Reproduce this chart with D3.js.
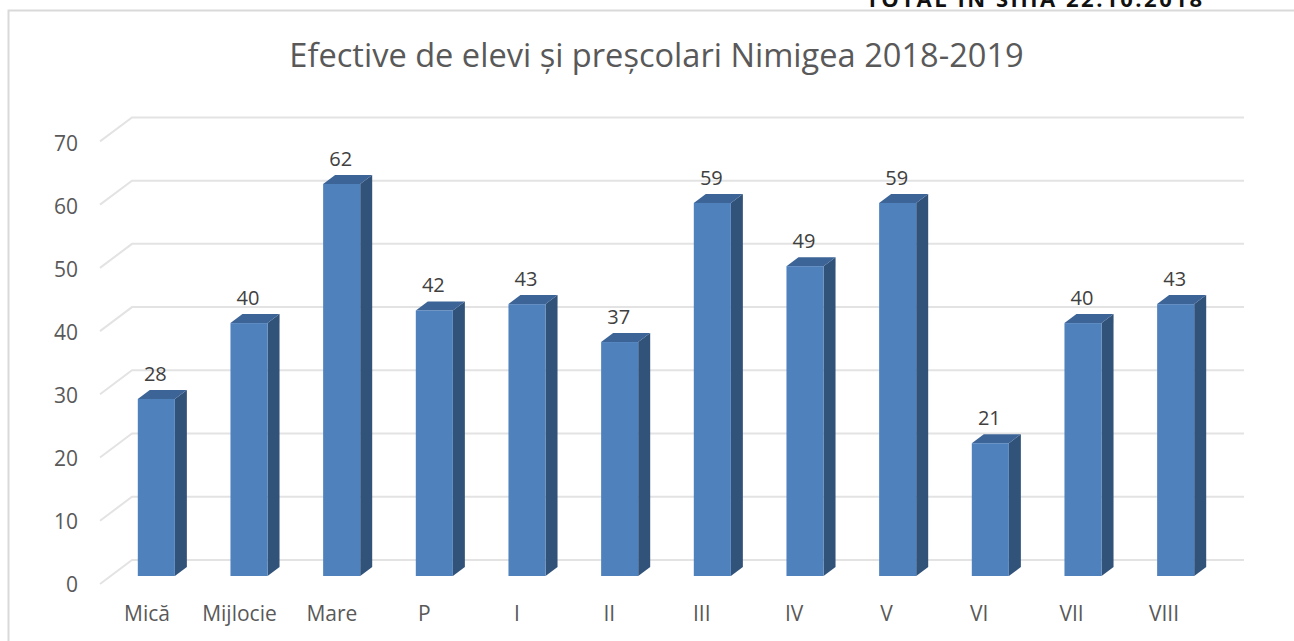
<!DOCTYPE html>
<html><head><meta charset="utf-8">
<script src="https://cdn.jsdelivr.net/npm/d3@7/dist/d3.min.js"></script>
<style>html,body{margin:0;padding:0;background:#fff}svg{display:block}text{font-family:"Open Sans","Noto Sans",sans-serif}</style>
</head><body><svg id="c" width="1294" height="641"></svg>
<script>
const categories=["Mică","Mijlocie","Mare","P","I","II","III","IV","V","VI","VII","VIII"];
const values=[28,40,62,42,43,37,59,49,59,21,40,43];
const yTicks=[0,10,20,30,40,50,60,70];
const titleText="Efective de elevi și preșcolari Nimigea 2018-2019";
const headerText="TOTAL ÎN SIIIA 22.10.2018";

const svg=d3.select("#c");
const x=d3.scaleBand().domain(categories).range([110,1222]).paddingInner(0.6).paddingOuter(0.3);
const xLabel=d3.scalePoint().domain(categories).range([147,1164]);
const y=d3.scaleLinear().domain([0,70]).range([576,133.4]);
const yLabel=d3.scaleLinear().domain([0,70]).range([591.5,151]);
const dx=12,dy=9;
const gridLeft=100,gridBack=132,gridRight=1244,gridShift=16;
const grey="#595959";

svg.append("text").attr("x",866).attr("y",6.5).attr("textLength",336).attr("lengthAdjust","spacing").attr("font-weight",700).attr("font-size",22).attr("fill","#111").text(headerText);
svg.append("path").attr("d","M8.5,641V10.5H1294").attr("fill","none").attr("stroke","#d9d9d9").attr("stroke-width",2);

svg.append("text").attr("x",656.5).attr("y",67).attr("text-anchor","middle").attr("font-size",32.6).attr("fill",grey).text(titleText);

const grid=svg.append("g").attr("fill","none").attr("stroke","#e3e3e3").attr("stroke-width",2);
yTicks.forEach(t=>{
  const yb=y(t)-gridShift;
  grid.append("path").attr("d",`M${gridLeft},${yb+24}L${gridBack},${yb}H${gridRight}`);
});

svg.append("g").selectAll("text").data(yTicks).join("text")
  .attr("x",78).attr("y",d=>yLabel(d)).attr("text-anchor","end").attr("font-size",21).attr("fill",grey).text(d=>d);

svg.append("g").selectAll("text").data(categories).join("text")
  .attr("x",d=>xLabel(d)).attr("y",621).attr("text-anchor","middle").attr("font-size",21).attr("fill",grey).text(d=>d);

const bars=svg.append("g").selectAll("g").data(categories).join("g");
bars.append("path").attr("fill","#315279").attr("d",(d,i)=>{
  const r=x(d)+x.bandwidth(),t=y(values[i]),b=y(0);
  return `M${r},${t}L${r+dx},${t-dy}V${b-dy}L${r},${b}Z`;});
bars.append("path").attr("fill","#3c6496").attr("d",(d,i)=>{
  const l=x(d),r=l+x.bandwidth(),t=y(values[i]);
  return `M${l},${t}L${l+dx},${t-dy}H${r+dx}L${r},${t}Z`;});
bars.append("rect").attr("fill","#4f81bd").attr("x",d=>x(d)).attr("width",x.bandwidth())
  .attr("y",(d,i)=>y(values[i])).attr("height",(d,i)=>y(0)-y(values[i]));
bars.append("text").attr("x",d=>x(d)+x.bandwidth()/2-1).attr("y",(d,i)=>y(values[i])-18)
  .attr("text-anchor","middle").attr("font-size",20).attr("fill","#404040").text((d,i)=>values[i]);
</script></body></html>
